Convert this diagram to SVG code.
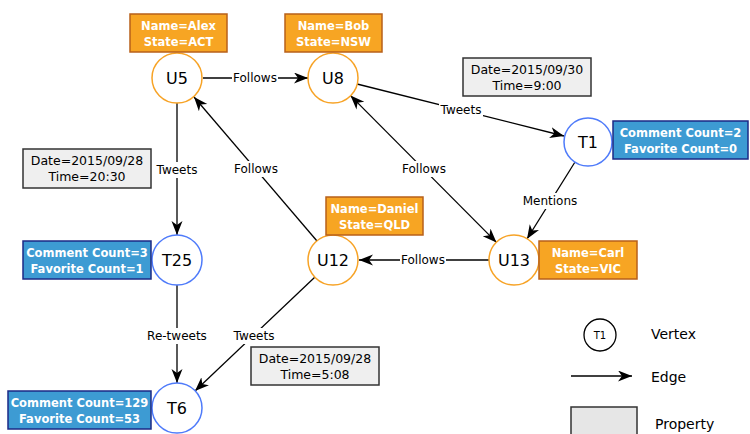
<svg xmlns="http://www.w3.org/2000/svg" width="750" height="434" viewBox="0 0 750 434">
<style>
text{font-family:"DejaVu Sans","Liberation Sans",sans-serif;fill:#000}
.user{fill:#fff;stroke:#F7A326;stroke-width:1.5}
.tw{fill:#fff;stroke:#4F7BFA;stroke-width:1.5}
.nl{font-size:16px;text-anchor:middle;dominant-baseline:central}
.po{fill:#F7A523;stroke:#B8601A;stroke-width:1.5}
.pb{fill:#3D9BD3;stroke:#1B2A86;stroke-width:1.5}
.pg{fill:#EFEFEF;stroke:#333;stroke-width:1.5}
.pt{font-size:11.5px;font-weight:bold;fill:#fff;text-anchor:middle}
.gt{font-size:12.5px;text-anchor:middle}
.e{stroke:#000;stroke-width:1.3;fill:none}
.ea{marker-end:url(#arr)}
.lb{fill:#fff}
.el{font-size:12px;text-anchor:middle;dominant-baseline:central}
.lg{font-size:14px}
</style>
<defs>
<marker id="arr" markerUnits="userSpaceOnUse" markerWidth="15" markerHeight="12" refX="14" refY="5.5" orient="auto">
<path d="M0,0 L14,5.5 L0,11 L4,5.5 z" fill="#000"/>
</marker>
<marker id="arrs" markerUnits="userSpaceOnUse" markerWidth="15" markerHeight="12" refX="0" refY="5.5" orient="auto">
<path d="M14,0 L0,5.5 L14,11 L10,5.5 z" fill="#000"/>
</marker>
</defs>

<g id="edges">
<line class="e ea" x1="203" y1="78" x2="308" y2="78"/>
<rect class="lb" x="232" y="70" width="46" height="16"/>
<text class="el" x="255" y="78">Follows</text>

<line class="e ea" x1="357" y1="84" x2="564" y2="136"/>
<rect class="lb" x="439" y="102" width="44" height="16"/>
<text class="el" x="461" y="110">Tweets</text>

<line class="e ea" x1="575" y1="162" x2="527" y2="239"/>
<rect class="lb" x="523" y="193" width="55" height="16"/>
<text class="el" x="550" y="201">Mentions</text>

<line class="e ea" x1="350.5" y1="95.6" x2="496.5" y2="242.4" marker-start="url(#arrs)"/>
<rect class="lb" x="401" y="161" width="46" height="16"/>
<text class="el" x="424" y="169">Follows</text>

<line class="e ea" x1="317" y1="241" x2="194" y2="97"/>
<rect class="lb" x="233" y="161" width="46" height="16"/>
<text class="el" x="256" y="169">Follows</text>

<line class="e ea" x1="177" y1="103" x2="177" y2="235"/>
<rect class="lb" x="155" y="162" width="44" height="16"/>
<text class="el" x="177" y="170">Tweets</text>

<line class="e ea" x1="489" y1="260" x2="359" y2="260"/>
<rect class="lb" x="400" y="252" width="46" height="16"/>
<text class="el" x="423" y="260">Follows</text>

<line class="e ea" x1="177" y1="285" x2="177" y2="383"/>
<rect class="lb" x="146" y="328" width="62" height="16"/>
<text class="el" x="177" y="336">Re-tweets</text>

<line class="e ea" x1="315" y1="277" x2="195" y2="391"/>
<rect class="lb" x="232" y="328" width="44" height="16"/>
<text class="el" x="254" y="336">Tweets</text>
</g>

<g id="U5">
<circle class="user" cx="177" cy="78" r="25"/>
<text class="nl" x="177" y="78">U5</text>
<rect class="po" x="130" y="14" width="97" height="38"/>
<text class="pt" x="178.5" y="30">Name=Alex</text>
<text class="pt" x="178.5" y="46">State=ACT</text>
</g>

<g id="U8">
<circle class="user" cx="333" cy="78" r="25"/>
<text class="nl" x="333" y="78">U8</text>
<rect class="po" x="285" y="14" width="97" height="38"/>
<text class="pt" x="333.5" y="30">Name=Bob</text>
<text class="pt" x="333.5" y="46">State=NSW</text>
</g>

<g id="T1">
<circle class="tw" cx="588" cy="142" r="24"/>
<text class="nl" x="588" y="142">T1</text>
<rect class="pb" x="613" y="121" width="135" height="38"/>
<text class="pt" x="680.5" y="137">Comment Count=2</text>
<text class="pt" x="680.5" y="153">Favorite Count=0</text>
</g>

<g id="prop-T1-tweet">
<rect class="pg" x="463" y="58" width="128" height="38"/>
<text class="gt" x="527" y="74">Date=2015/09/30</text>
<text class="gt" x="527" y="90">Time=9:00</text>
</g>

<g id="T25">
<circle class="tw" cx="177" cy="260" r="25"/>
<text class="nl" x="177" y="260">T25</text>
<rect class="pb" x="23" y="241" width="128" height="38"/>
<text class="pt" x="87" y="257">Comment Count=3</text>
<text class="pt" x="87" y="273">Favorite Count=1</text>
</g>

<g id="prop-T25-tweet">
<rect class="pg" x="23" y="149" width="128" height="39"/>
<text class="gt" x="87" y="165">Date=2015/09/28</text>
<text class="gt" x="87" y="181">Time=20:30</text>
</g>

<g id="U12">
<circle class="user" cx="333" cy="260" r="25"/>
<text class="nl" x="333" y="260">U12</text>
<rect class="po" x="326" y="197" width="97" height="38"/>
<text class="pt" x="374.5" y="213">Name=Daniel</text>
<text class="pt" x="374.5" y="229">State=QLD</text>
</g>

<g id="U13">
<circle class="user" cx="514" cy="260" r="25"/>
<text class="nl" x="514" y="260">U13</text>
<rect class="po" x="539" y="241" width="98" height="38"/>
<text class="pt" x="588" y="257">Name=Carl</text>
<text class="pt" x="588" y="273">State=VIC</text>
</g>

<g id="T6">
<circle class="tw" cx="177" cy="408" r="25"/>
<text class="nl" x="177" y="408">T6</text>
<rect class="pb" x="8" y="391" width="143" height="38"/>
<text class="pt" x="79.5" y="407">Comment Count=129</text>
<text class="pt" x="79.5" y="423">Favorite Count=53</text>
</g>

<g id="prop-T6-tweet">
<rect class="pg" x="251" y="347" width="128" height="38"/>
<text class="gt" x="315" y="363">Date=2015/09/28</text>
<text class="gt" x="315" y="379">Time=5:08</text>
</g>

<g id="legend">
<circle cx="600" cy="335" r="16" fill="#fff" stroke="#000" stroke-width="1.3"/>
<text x="600" y="335" font-size="10" text-anchor="middle" dominant-baseline="central">T1</text>
<text class="lg" x="651" y="339">Vertex</text>
<line class="e ea" x1="571" y1="376" x2="632" y2="376"/>
<text class="lg" x="651" y="382">Edge</text>
<rect x="571" y="407" width="66" height="40" fill="#E6E6E6" stroke="#333" stroke-width="1.5"/>
<text class="lg" x="655" y="429">Property</text>
</g>
</svg>
